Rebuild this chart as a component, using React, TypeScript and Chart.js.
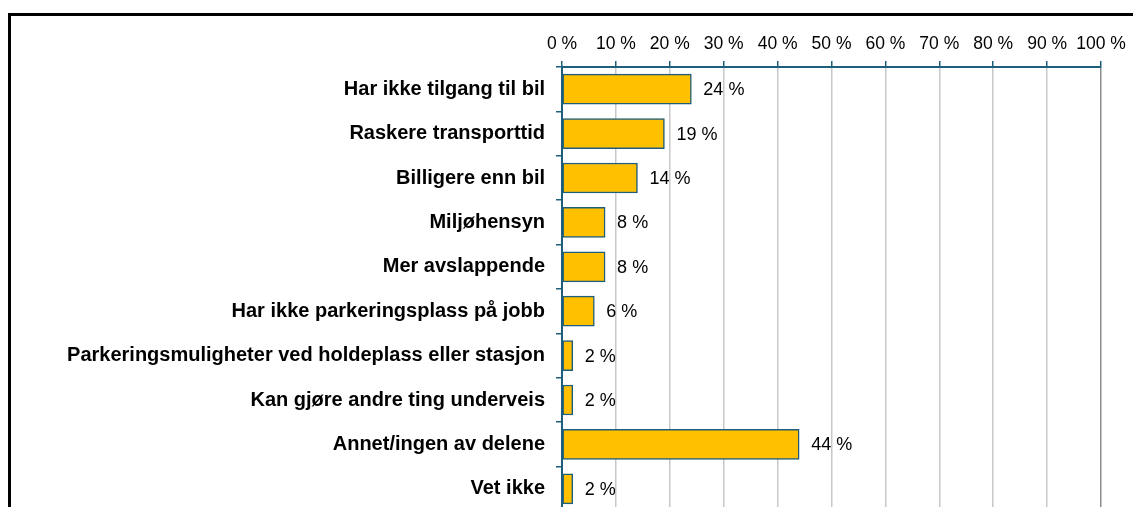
import React, { useEffect, useRef } from "react";
import { Chart, registerables } from "chart.js";

Chart.register(...registerables);

const categories = [
  "Har ikke tilgang til bil",
  "Raskere transporttid",
  "Billigere enn bil",
  "Miljøhensyn",
  "Mer avslappende",
  "Har ikke parkeringsplass på jobb",
  "Parkeringsmuligheter ved holdeplass eller stasjon",
  "Kan gjøre andre ting underveis",
  "Annet/ingen av delene",
  "Vet ikke",
];
const values = [24, 19, 14, 8, 8, 6, 2, 2, 44, 2];
const xTicksMax = 100;
const xTickStep = 10;

const FONT = "'Liberation Sans', Arial, sans-serif";
const TEAL = "#1F5E7A";

const framePlugin = {
  id: "frame",
  afterDraw(chart: any) {
    const ctx = chart.ctx;
    ctx.save();
    ctx.fillStyle = "#000";
    ctx.fillRect(8, 13, 3, chart.height);
    ctx.fillRect(8, 13, chart.width, 3);
    ctx.restore();
  },
};

const valueLabels = {
  id: "valueLabels",
  afterDatasetsDraw(chart: any) {
    const ctx = chart.ctx;
    const meta = chart.getDatasetMeta(0);
    const data = chart.data.datasets[0].data as number[];
    ctx.save();
    ctx.font = `18px ${FONT}`;
    ctx.fillStyle = "#000";
    ctx.textAlign = "left";
    ctx.textBaseline = "middle";
    meta.data.forEach((bar: any, i: number) => {
      ctx.fillText(`${data[i]} %`, bar.x + 12, bar.y + 1);
    });
    ctx.restore();
  },
};

export default function App() {
  const ref = useRef<HTMLCanvasElement>(null);
  useEffect(() => {
    if (!ref.current) return;
    const chart = new Chart(ref.current, {
      type: "bar",
      data: {
        labels: categories,
        datasets: [
          {
            data: values,
            backgroundColor: "#FFC000",
            borderColor: TEAL,
            borderWidth: 1.5,
            borderSkipped: false,
            barThickness: 30,
          },
        ],
      },
      options: {
        indexAxis: "y",
        animation: false,
        responsive: false,
        maintainAspectRatio: false,
        layout: { padding: { left: 0, right: 32, top: 0, bottom: 29 } },
        plugins: {
          legend: { display: false },
          tooltip: { enabled: false },
        },
        scales: {
          x: {
            position: "top",
            min: 0,
            max: xTicksMax,
            ticks: {
              stepSize: xTickStep,
              autoSkip: false,
              color: "#000",
              padding: 6,
              font: { family: FONT, size: 17.5 },
              callback: (v: any) => `${v} %`,
              maxRotation: 0,
            },
            grid: {
              color: (c: any) => (c.tick && c.tick.value === 100 ? "#8C8C8C" : "#C8C8C8"),
              lineWidth: 1.5,
              tickColor: TEAL,
              tickLength: 6,
            },
            border: { color: TEAL, width: 2 },
            afterFit: (s: any) => {
              s.height = 67;
            },
          },
          y: {
            ticks: {
              color: "#000",
              padding: 11,
              font: { family: FONT, size: 20, weight: "bold" },
              autoSkip: false,
            },
            grid: {
              drawOnChartArea: false,
              tickColor: TEAL,
              tickLength: 6,
              lineWidth: 1.5,
              offset: true,
            },
            border: { color: TEAL, width: 2 },
            afterFit: (s: any) => {
              s.width = 562;
            },
          },
        },
      },
      plugins: [framePlugin, valueLabels],
    });
    return () => chart.destroy();
  }, []);
  return (
    <div
      style={{
        position: "fixed",
        left: 0,
        top: 0,
        width: 1133,
        height: 507,
        overflow: "hidden",
        background: "#fff",
      }}
    >
      <canvas ref={ref} width={1133} height={540} style={{ display: "block" }} />
    </div>
  );
}
